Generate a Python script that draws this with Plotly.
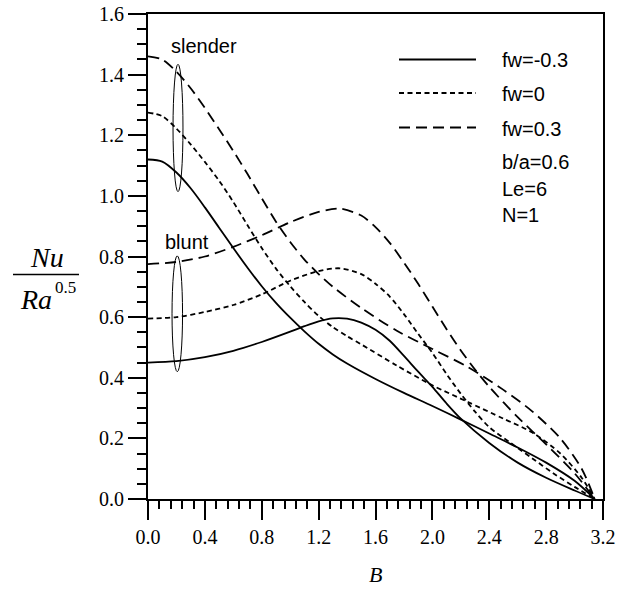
import plotly.graph_objects as go

# ---------------- data ----------------
B_end = 3.1416

# fw = -0.3, slender
B_s1 = [0.0, 0.1, 0.2, 0.3, 0.4, 0.5, 0.6, 0.7, 0.8, 0.9, 1.0, 1.1, 1.2, 1.3, 1.4, 1.6, 1.8, 2.0, 2.2, 2.4, 2.6, 2.8, 3.0, B_end]
V_s1 = [1.12, 1.113, 1.077, 1.025, 0.962, 0.895, 0.828, 0.763, 0.702, 0.647, 0.598, 0.553, 0.512, 0.477, 0.447, 0.396, 0.35, 0.307, 0.262, 0.216, 0.17, 0.12, 0.06, 0.0]
# fw = 0, slender
B_s2 = [0.0, 0.1, 0.2, 0.3, 0.4, 0.5, 0.6, 0.7, 0.8, 0.9, 1.0, 1.1, 1.2, 1.3, 1.4, 1.5, 1.75, 2.0, 2.25, 2.5, 2.7, 2.9, 3.05, B_end]
V_s2 = [1.275, 1.263, 1.222, 1.17, 1.112, 1.05, 0.98, 0.903, 0.828, 0.76, 0.702, 0.65, 0.604, 0.567, 0.537, 0.51, 0.44, 0.375, 0.32, 0.265, 0.22, 0.15, 0.07, 0.0]
# fw = 0.3, slender
B_s3 = [0.0, 0.1, 0.2, 0.3, 0.4, 0.5, 0.6, 0.7, 0.8, 0.9, 1.0, 1.1, 1.2, 1.3, 1.5, 1.75, 2.0, 2.25, 2.5, 2.7, 2.9, 3.05, B_end]
V_s3 = [1.46, 1.45, 1.41, 1.355, 1.29, 1.22, 1.148, 1.072, 0.992, 0.915, 0.848, 0.79, 0.742, 0.70, 0.63, 0.555, 0.495, 0.435, 0.36, 0.29, 0.2, 0.1, 0.0]

# fw = -0.3, blunt
B_b1 = [0.0, 0.2, 0.4, 0.6, 0.8, 1.0, 1.1, 1.2, 1.3, 1.4, 1.5, 1.6, 1.7, 1.8, 1.9, 2.0, 2.1, 2.2, 2.4, 2.6, 2.8, 3.0, B_end]
V_b1 = [0.45, 0.455, 0.468, 0.489, 0.518, 0.552, 0.57, 0.586, 0.596, 0.595, 0.582, 0.558, 0.522, 0.472, 0.42, 0.37, 0.315, 0.265, 0.185, 0.12, 0.07, 0.028, 0.0]
# fw = 0, blunt
B_b2 = [0.0, 0.2, 0.4, 0.6, 0.8, 1.0, 1.2, 1.35, 1.5, 1.6, 1.7, 1.8, 1.9, 2.0, 2.1, 2.2, 2.3, 2.4, 2.55, 2.7, 2.85, 3.0, B_end]
V_b2 = [0.595, 0.6, 0.617, 0.64, 0.675, 0.72, 0.752, 0.761, 0.742, 0.71, 0.668, 0.61, 0.545, 0.482, 0.412, 0.347, 0.288, 0.237, 0.185, 0.135, 0.085, 0.04, 0.0]
# fw = 0.3, blunt
B_b3 = [0.0, 0.2, 0.4, 0.6, 0.8, 1.0, 1.2, 1.35, 1.5, 1.6, 1.7, 1.8, 1.9, 2.0, 2.1, 2.2, 2.3, 2.4, 2.6, 2.8, 3.0, B_end]
V_b3 = [0.775, 0.782, 0.80, 0.832, 0.87, 0.913, 0.947, 0.958, 0.935, 0.897, 0.845, 0.78, 0.71, 0.635, 0.56, 0.49, 0.427, 0.37, 0.27, 0.18, 0.085, 0.0]

legend_labels = ["fw=-0.3", "fw=0", "fw=0.3"]
param_labels = ["b/a=0.6", "Le=6", "N=1"]
x_ticks = [0.0, 0.4, 0.8, 1.2, 1.6, 2.0, 2.4, 2.8, 3.2]
y_ticks = [0.0, 0.2, 0.4, 0.6, 0.8, 1.0, 1.2, 1.4, 1.6]

# ---------------- styling ----------------
W, H = 628, 590
ML, MT = 148, 14
MR = W - 603
MB = H - 499
PW, PH = W - ML - MR, H - MT - MB

def px(x):
    return (x - ML) / PW

def py(y):
    return (H - MB - y) / PH

dashes = ["solid", "5px,3.5px", "11px,6px"]
LW = 1.8

fig = go.Figure()
for bx, vy, d in [(B_s1, V_s1, dashes[0]), (B_s2, V_s2, dashes[1]), (B_s3, V_s3, dashes[2]),
                  (B_b1, V_b1, dashes[0]), (B_b2, V_b2, dashes[1]), (B_b3, V_b3, dashes[2])]:
    fig.add_trace(go.Scatter(x=bx, y=vy, mode="lines",
                             line=dict(color="black", width=LW, dash=d, shape="spline", smoothing=0.8),
                             showlegend=False, hoverinfo="skip"))

serif = "Liberation Serif, Times New Roman, serif"
sans = "Liberation Sans, Arial, sans-serif"

fig.update_layout(
    width=W, height=H,
    margin=dict(l=ML, r=MR, t=MT, b=MB, autoexpand=False),
    paper_bgcolor="white", plot_bgcolor="white",
    showlegend=False,
)
axis_common = dict(
    showgrid=False, zeroline=False, showline=True, linecolor="black", linewidth=2,
    mirror=True, ticks="outside", tickcolor="black", tickwidth=2, automargin=False,
    ticklabeloverflow="allow",
    tickfont=dict(family=serif, size=20, color="black"),
)
fig.update_xaxes(range=[0, 3.2], tickvals=x_ticks, ticktext=[f"{v:.1f}" for v in x_ticks],
                 ticklen=19,
                 minor=dict(dtick=0.08, tick0=0, ticks="outside", ticklen=8, tickwidth=1.5, tickcolor="black"),
                 **axis_common)
fig.update_yaxes(range=[0, 1.6], tickvals=y_ticks, ticktext=[f"{v:.1f}" for v in y_ticks],
                 ticklen=18,
                 minor=dict(dtick=0.05, tick0=0, ticks="outside", ticklen=9, tickwidth=1.5, tickcolor="black"),
                 **axis_common)

shapes = []
ann = []

# legend samples
leg_y = [59.5, 93, 127.5]
for yy, d, lab in zip(leg_y, dashes, legend_labels):
    shapes.append(dict(type="line", xref="paper", yref="paper", x0=px(399), x1=px(476), y0=py(yy), y1=py(yy),
                       line=dict(color="black", width=LW, dash=d)))
    ann.append(dict(xref="paper", yref="paper", x=px(500), y=py(yy + 1), text=lab, showarrow=False,
                    xanchor="left", yanchor="middle", font=dict(family=sans, size=20, color="black")))
for yy, lab in zip([162, 189, 215.5], param_labels):
    ann.append(dict(xref="paper", yref="paper", x=px(500), y=py(yy), text=lab, showarrow=False,
                    xanchor="left", yanchor="middle", font=dict(family=sans, size=20, color="black")))

# labels slender / blunt
ann.append(dict(xref="paper", yref="paper", x=px(203.5), y=py(46), text="slender", showarrow=False,
                xanchor="center", yanchor="middle", font=dict(family=sans, size=20, color="black")))
ann.append(dict(xref="paper", yref="paper", x=px(187), y=py(242), text="blunt", showarrow=False,
                xanchor="center", yanchor="middle", font=dict(family=sans, size=20, color="black")))

# ellipses
for cx, cy, rx, ry in [(0.211, 1.224, 0.035, 0.21), (0.206, 0.611, 0.037, 0.191)]:
    shapes.append(dict(type="circle", xref="x", yref="y", x0=cx - rx, x1=cx + rx, y0=cy - ry, y1=cy + ry,
                       line=dict(color="black", width=1)))

# y-axis title as fraction
shapes.append(dict(type="line", xref="paper", yref="paper", x0=px(13), x1=px(79), y0=py(274.5), y1=py(274.5),
                   line=dict(color="black", width=1.5)))
ann.append(dict(xref="paper", yref="paper", x=px(47), y=py(257), text="<i>Nu</i>", showarrow=False,
                xanchor="center", yanchor="middle", font=dict(family=serif, size=28, color="black")))
ann.append(dict(xref="paper", yref="paper", x=px(36), y=py(299), text="<i>Ra</i>", showarrow=False,
                xanchor="center", yanchor="middle", font=dict(family=serif, size=28, color="black")))
ann.append(dict(xref="paper", yref="paper", x=px(65), y=py(287), text="0.5", showarrow=False,
                xanchor="center", yanchor="middle", font=dict(family=serif, size=17, color="black")))
# x-axis title
ann.append(dict(xref="paper", yref="paper", x=px(375), y=py(574), text="<i>B</i>", showarrow=False,
                xanchor="center", yanchor="middle", font=dict(family=serif, size=22, color="black")))

fig.update_layout(shapes=shapes, annotations=ann)
fig.write_html("out.html", config={"displayModeBar": False},
               post_script="document.body.style.margin='0';document.body.style.overflow='hidden';")
